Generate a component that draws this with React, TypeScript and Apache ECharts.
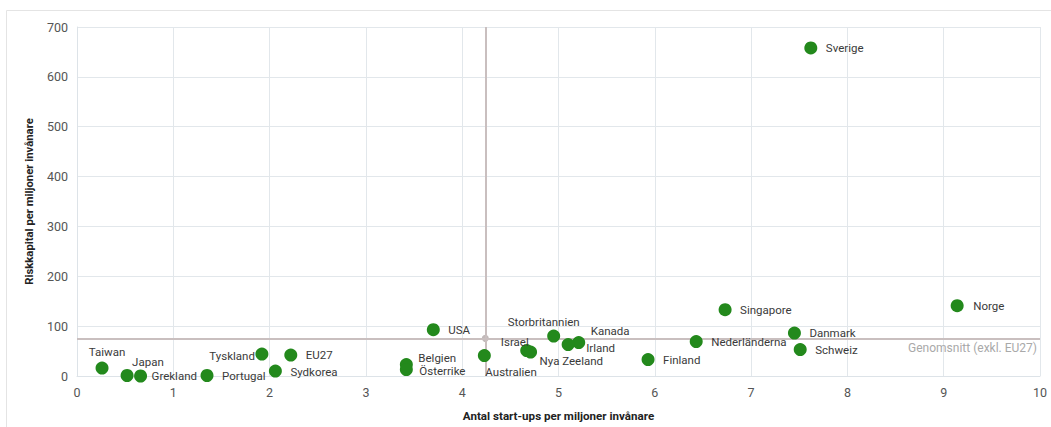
import React, { useEffect, useRef } from "react";
import * as echarts from "echarts";

const countries = ["Sverige", "Norge", "Singapore", "USA", "Storbritannien", "Kanada", "Irland", "Israel", "Nya Zeeland", "Australien", "Belgien", "Österrike", "Danmark", "Nederländerna", "Schweiz", "Finland", "Tyskland", "EU27", "Sydkorea", "Portugal", "Grekland", "Japan", "Taiwan"];
const startups = [7.62, 9.14, 6.73, 3.70, 4.95, 5.21, 5.10, 4.67, 4.71, 4.23, 3.42, 3.42, 7.45, 6.43, 7.51, 5.93, 1.92, 2.22, 2.06, 1.35, 0.66, 0.52, 0.26];
const capital = [658, 141, 133, 93, 80, 67, 63, 51, 48, 41, 23, 13, 86, 69, 53, 33, 44, 42, 10, 1, 0, 1, 16];
const avgStartups = 4.24;
const avgCapital = 75.5;
const avgLabel = "Genomsnitt (exkl. EU27)";
const xTitle = "Antal start-ups per miljoner invånare";
const yTitle = "Riskkapital per miljoner invånare";

// label placement (style only): align, dx, dy relative to dot centre
const labelPlace: Record<string, [string, number, number]> = {
  Norge: ["left", 16, 0],
  Grekland: ["left", 11, 0],
  Belgien: ["left", 12, -7],
  "Österrike": ["left", 13, 1],
  Australien: ["left", 1, 16],
  "Nya Zeeland": ["left", 9, 9],
  Irland: ["left", 18, 3],
  Kanada: ["left", 12, -12],
  Storbritannien: ["center", -10, -14],
  Israel: ["right", 2, -9],
  Tyskland: ["right", -7, 2],
  Taiwan: ["center", 5, -16],
  Japan: ["left", 5, -14],
  Sydkorea: ["left", 15, 1],
};

const FONT = "Roboto, 'Noto Sans', sans-serif";

export default function App() {
  const ref = useRef<HTMLDivElement>(null);
  useEffect(() => {
    if (!ref.current) return;
    const chart = echarts.init(ref.current, null, { renderer: "svg" });
    const data = countries.map((name, i) => {
      const p = labelPlace[name] || ["left", 15, 0];
      return {
        name,
        value: [startups[i], capital[i]],
        label: {
          show: true,
          position: "inside",
          align: p[0],
          verticalAlign: "middle",
          offset: [p[1], p[2]],
          formatter: name,
          color: "#3a3a3a",
          fontSize: 11.5,
          fontFamily: FONT,
        },
      };
    });
    chart.setOption({
      animation: false,
      textStyle: { fontFamily: FONT },
      graphic: [
        {
          type: "rect",
          shape: { x: 6.5, y: 10.5, width: 1060, height: 430 },
          style: { fill: "none", stroke: "#e4e4e4", lineWidth: 1 },
          silent: true,
          z: -1,
        },
      ],
      grid: { left: 77, right: 11, top: 27, bottom: 50 },
      xAxis: {
        type: "value",
        min: 0,
        max: 10,
        interval: 1,
        name: xTitle,
        nameLocation: "middle",
        nameGap: 34,
        nameTextStyle: { fontWeight: "bold", fontSize: 11.6, color: "#222", fontFamily: FONT },
        axisLine: { show: true, lineStyle: { color: "#dde3e8", width: 1 } },
        axisTick: { show: false },
        axisLabel: { color: "#555", fontSize: 12.5, margin: 10, fontFamily: FONT },
        splitLine: { show: true, lineStyle: { color: "#e2e7eb", width: 1 } },
      },
      yAxis: {
        type: "value",
        min: 0,
        max: 700,
        interval: 100,
        name: yTitle,
        nameLocation: "middle",
        nameGap: 42,
        nameTextStyle: { fontWeight: "bold", fontSize: 11.3, color: "#222", fontFamily: FONT },
        axisLine: { show: true, lineStyle: { color: "#dde3e8", width: 1 } },
        axisTick: { show: false },
        axisLabel: { color: "#555", fontSize: 12.5, margin: 9, fontFamily: FONT },
        splitLine: { show: true, lineStyle: { color: "#e2e7eb", width: 1 } },
      },
      series: [
        {
          type: "scatter",
          name: "avg",
          data: [[avgStartups, avgCapital]],
          symbolSize: 7,
          itemStyle: { color: "#b3a9a9" },
          z: 3,
          markLine: {
            silent: true,
            symbol: "none",
            lineStyle: { color: "#c9bfbf", width: 2, type: "solid" },
            label: { show: false },
            data: [
              { xAxis: avgStartups },
              {
                yAxis: avgCapital,
                label: {
                  show: true,
                  formatter: avgLabel,
                  position: "insideEndBottom",
                  color: "#a9a9a9",
                  fontSize: 12,
                  fontFamily: FONT,
                  distance: [3, 4],
                },
              },
            ],
          },
        },
        {
          type: "scatter",
          name: "länder",
          data,
          symbolSize: 13,
          itemStyle: { color: "#23891c", opacity: 1 },
          z: 5,
        },
      ],
    });
    return () => chart.dispose();
  }, []);
  return (
    <div
      ref={ref}
      style={{ position: "absolute", left: 0, top: 0, width: 1051, height: 427, background: "#fff" }}
    />
  );
}
